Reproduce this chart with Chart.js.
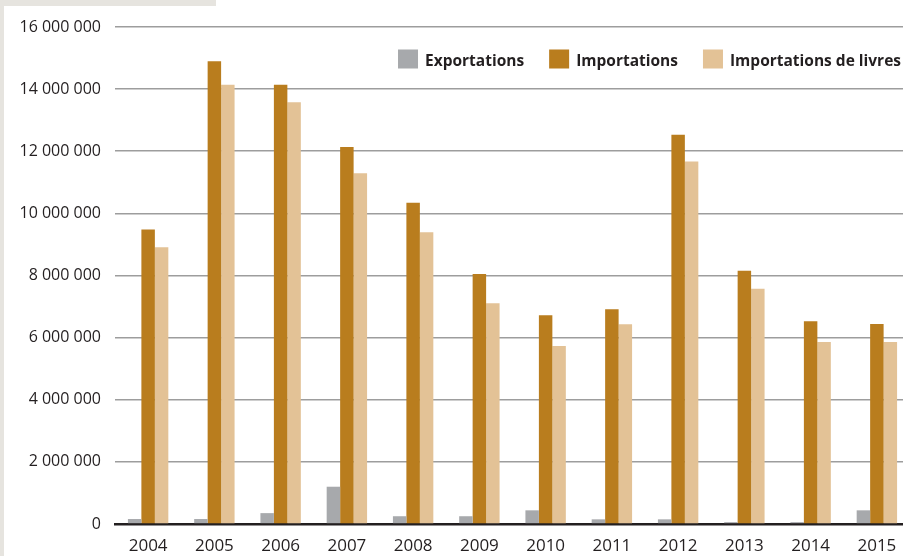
<!DOCTYPE html>
<html>
<head>
<meta charset="utf-8">
<script src="https://cdn.jsdelivr.net/npm/chart.js@4"></script>
<style>
  html, body { margin: 0; padding: 0; background: #ffffff; overflow: hidden; width: 903px; height: 556px; }
  #edge-left { position: absolute; left: 0; top: 0; width: 4px; height: 556px; background: #e6e4df; }
  #edge-top { position: absolute; left: 0; top: 0; width: 216px; height: 6px; background: #e6e4df; }
  #wrap { position: absolute; left: 0; top: 0; width: 910px; height: 556px; }
</style>
</head>
<body>
<div id="edge-left"></div>
<div id="edge-top"></div>
<div id="wrap"><canvas id="chart" width="910" height="556"></canvas></div>
<script>
// Années
const years = ['2004','2005','2006','2007','2008','2009','2010','2011','2012','2013','2014','2015'];

// Valeurs par année
const exportations = [160000, 160000, 350000, 1200000, 250000, 250000, 440000, 150000, 150000, 60000, 60000, 440000];
const importations = [9480000, 14900000, 14140000, 12140000, 10340000, 8050000, 6720000, 6910000, 12530000, 8150000, 6530000, 6440000];
const importationsLivres = [8910000, 14140000, 13580000, 11290000, 9390000, 7110000, 5730000, 6430000, 11670000, 7570000, 5860000, 5860000];

// Graduations de l'axe vertical
const yTicks = [0, 2000000, 4000000, 6000000, 8000000, 10000000, 12000000, 14000000, 16000000];

const seriesNames = ['Exportations', 'Importations', 'Importations de livres'];
const seriesColors = ['#a7a9ac', '#b97d1e', '#e3c296'];

const INK = '#231f20';
const FONT = "'Open Sans', 'DejaVu Sans', sans-serif";

function spaced(v) {
  return String(v).replace(/\B(?=(\d{3})+(?!\d))/g, ' ');
}

// Légende dessinée en haut à droite, dans la zone du graphique
const topLegend = {
  id: 'topLegend',
  afterDraw(chart) {
    const ctx = chart.ctx;
    const ds = chart.data.datasets;
    ctx.save();
    ctx.font = "bold 15.5px " + FONT;
    ctx.textBaseline = 'middle';
    const box = 20, boxH = 19, gap = 7, itemGap = 25;
    const cy = 61;
    let x = 901;
    const pos = [];
    for (let i = ds.length - 1; i >= 0; i--) {
      const w = ctx.measureText(ds[i].label).width;
      const tx = x - w;
      const bx = tx - gap - box;
      pos[i] = { bx, tx };
      x = bx - itemGap;
    }
    ds.forEach((d, i) => {
      ctx.fillStyle = d.backgroundColor;
      ctx.fillRect(pos[i].bx, cy - boxH / 2 - 2, box, boxH);
      ctx.fillStyle = INK;
      ctx.fillText(d.label, pos[i].tx, cy + 1);
    });
    ctx.restore();
  }
};

const values = [exportations, importations, importationsLivres];

new Chart(document.getElementById('chart'), {
  type: 'bar',
  data: {
    labels: years,
    datasets: values.map((v, i) => ({
      label: seriesNames[i],
      data: v,
      backgroundColor: seriesColors[i],
      borderWidth: 0,
      barPercentage: 1,
      categoryPercentage: 0.61
    }))
  },
  options: {
    responsive: false,
    animation: false,
    devicePixelRatio: 1,
    layout: { padding: { top: 27, right: 0, bottom: 0, left: 0 } },
    plugins: {
      legend: { display: false },
      tooltip: { enabled: false }
    },
    scales: {
      x: {
        grid: { display: false, drawTicks: false },
        border: { display: true, color: INK, width: 2.5 },
        ticks: {
          padding: 12,
          color: INK,
          font: { family: FONT, size: 17 }
        },
        afterFit(s) { s.height = 32; }
      },
      y: {
        min: 0,
        max: 16000000,
        afterBuildTicks(s) { s.ticks = yTicks.map(v => ({ value: v })); },
        grid: {
          drawTicks: false,
          color: ctx => ctx.tick && ctx.tick.value === 0 ? 'rgba(0,0,0,0)' : '#9d9d9d',
          lineWidth: 1.6
        },
        border: { display: false },
        ticks: {
          padding: 14,
          color: INK,
          font: { family: FONT, size: 16 },
          callback: v => spaced(v)
        },
        afterFit(s) { s.width = 115; }
      }
    }
  },
  plugins: [topLegend]
});
</script>
</body>
</html>
